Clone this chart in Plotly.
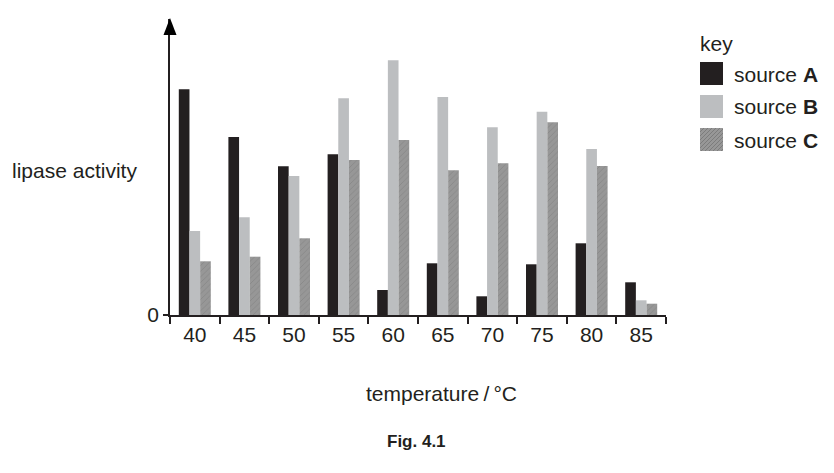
import plotly.graph_objects as go

# Data (arbitrary activity units)
temperatures = ["40", "45", "50", "55", "60", "65", "70", "75", "80", "85"]
source_a = [225.7, 178, 148.7, 160.7, 25, 51.7, 18.7, 50.7, 71.7, 32.7]
source_b = [84, 97.7, 139, 216.7, 254.7, 218, 187.7, 203.3, 166, 14.7]
source_c = [53.7, 58.3, 76.7, 155, 175, 144.7, 151.7, 192.7, 149, 11.3]

FONT = "Liberation Sans, Arial, sans-serif"
INK = "#231f20"
col_a = "#231f20"
col_b = "#bcbec0"
col_c = "#979797"

# plot area as it should appear on the page (page adds an 8px body margin)
OFF = 8
L, T, W, H = 170, 19, 496, 296
FIG_W, FIG_H = 834 - OFF, 473 - OFF


def px(x, y):
    # page pixel position -> paper coords
    return (x - L) / W, (T + H - y) / H


fig = go.Figure()
fig.add_trace(go.Bar(x=temperatures, y=source_a, name="source A",
                     marker=dict(color=col_a, line=dict(width=0))))
fig.add_trace(go.Bar(x=temperatures, y=source_b, name="source B",
                     marker=dict(color=col_b, line=dict(width=0))))
fig.add_trace(go.Bar(x=temperatures, y=source_c, name="source C",
                     marker=dict(color=col_c, line=dict(width=0),
                                 pattern=dict(shape="/", fgcolor="#6a6a6a",
                                              bgcolor=col_c, size=4, solidity=0.15))))

shapes = []
# arrow head on the y axis
tx, ty = px(170, 18)
bx0, by0 = px(163.5, 35)
bx1, by1 = px(176.5, 35)
shapes.append(dict(type="path", xref="paper", yref="paper",
                   path=f"M {bx0} {by0} L {tx} {ty} L {bx1} {by1} Z",
                   fillcolor="black", line=dict(width=0)))

# hand-drawn key
key_rows = [(62, col_a, "source <b>A</b>"), (95, col_b, "source <b>B</b>"),
            (128, col_c, "source <b>C</b>")]
annotations = []
for top, col, label in key_rows:
    x0, y0 = px(700, top + 23)
    x1, y1 = px(723, top)
    shapes.append(dict(type="rect", xref="paper", yref="paper",
                       x0=x0, y0=y0, x1=x1, y1=y1, fillcolor=col, line=dict(width=0)))
    lx, ly = px(732, top + 12)
    annotations.append(dict(x=lx, y=ly, xref="paper", yref="paper", text=label,
                            showarrow=False, xanchor="left", yanchor="middle",
                            font=dict(family=FONT, size=21, color=INK)))

# hatching on the key square for source C
sx0, sx1, sy0, sy1 = 700, 723, 128, 151
s = sx0 + sy0 + 4
while s < sx1 + sy1:
    xa = max(sx0, s - sy1)
    xb = min(sx1, s - sy0)
    p0 = px(xa, s - xa)
    p1 = px(xb, s - xb)
    shapes.append(dict(type="line", xref="paper", yref="paper",
                       x0=p0[0], y0=p0[1], x1=p1[0], y1=p1[1],
                       line=dict(color="#6a6a6a", width=0.6)))
    s += 4

kx, ky = px(698, 44)
annotations.append(dict(x=kx, y=ky, xref="paper", yref="paper", text="key",
                        showarrow=False, xanchor="left", yanchor="middle",
                        font=dict(family=FONT, size=21, color=INK)))

ax_, ay_ = px(10, 170)
annotations.append(dict(x=ax_, y=ay_, xref="paper", yref="paper", text="lipase activity",
                        showarrow=False, xanchor="left", yanchor="middle",
                        font=dict(family=FONT, size=21, color=INK)))

tx_, ty_ = px(441, 393)
annotations.append(dict(x=tx_, y=ty_, xref="paper", yref="paper",
                        text="temperature\u2009/\u2009°C",
                        showarrow=False, xanchor="center", yanchor="middle",
                        font=dict(family=FONT, size=21, color=INK)))

fx, fy = px(416, 441)
annotations.append(dict(x=fx, y=fy, xref="paper", yref="paper", text="<b>Fig. 4.1</b>",
                        showarrow=False, xanchor="center", yanchor="middle",
                        font=dict(family=FONT, size=17, color=INK)))

fig.update_layout(
    width=FIG_W, height=FIG_H,
    margin=dict(l=L - OFF, r=FIG_W - (L - OFF) - W, t=T - OFF, b=FIG_H - (T - OFF) - H),
    paper_bgcolor="white", plot_bgcolor="white",
    barmode="group", bargap=0.355, bargroupgap=0,
    showlegend=False,
    shapes=shapes, annotations=annotations,
    font=dict(family=FONT, size=21, color=INK),
    xaxis=dict(type="category", showline=True, linecolor=INK, linewidth=1.6,
               ticks="outside", tickson="boundaries", ticklen=7, tickwidth=1.6,
               tickcolor=INK, showgrid=False,
               tickfont=dict(family=FONT, size=21, color=INK)),
    yaxis=dict(range=[0, H], showline=True, linecolor=INK, linewidth=1.6,
               ticks="outside", ticklen=5, tickwidth=1.6, tickcolor=INK,
               tickvals=[0], ticktext=["0"], showgrid=False, zeroline=False,
               tickfont=dict(family=FONT, size=21, color=INK)),
)

fig.write_html("out.html")
